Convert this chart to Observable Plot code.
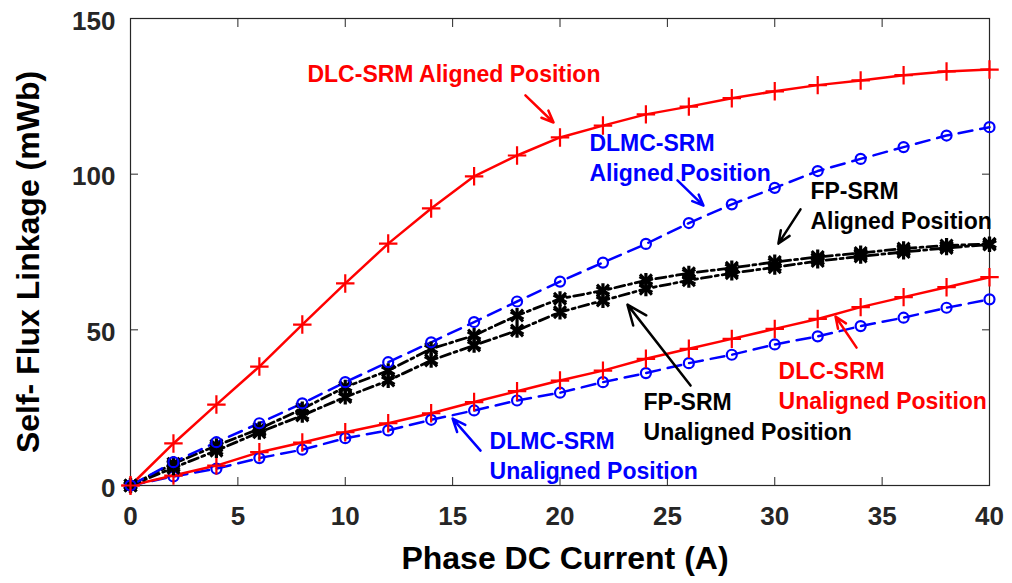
<!DOCTYPE html>
<html>
<head>
<meta charset="utf-8">
<script src="https://cdn.jsdelivr.net/npm/d3@7"></script>
<script src="https://cdn.jsdelivr.net/npm/@observablehq/plot@0.6"></script>
<style>
  html, body { margin: 0; padding: 0; background: #fff; }
  #chart { width: 1012px; height: 583px; }
</style>
</head>
<body>
<div id="chart"></div>
<script>
// ---- data ----
const current = [0, 2, 4, 6, 8, 10, 12, 14, 16, 18, 20, 22, 24, 26, 28, 30, 32, 34, 36, 38, 40];
const dlcAligned    = [0, 13.5, 26.0, 38.2, 51.7, 64.9, 77.7, 89.0, 99.3, 106.0, 111.8, 115.6, 119.2, 121.7, 124.4, 126.6, 128.6, 130.1, 131.8, 133.0, 133.6];
const dlmcAligned   = [0, 7.5, 13.9, 20.0, 26.4, 33.2, 39.6, 46.0, 52.5, 59.1, 65.5, 71.6, 77.6, 84.3, 90.3, 95.6, 101.0, 104.9, 108.7, 112.4, 115.1];
const fpAligned     = [0, 7.0, 12.8, 18.2, 24.6, 31.6, 36.9, 43.9, 48.2, 54.6, 60.0, 62.6, 65.9, 68.2, 69.9, 71.8, 73.4, 74.7, 76.1, 77.1, 77.6];
const fpUnaligned   = [0, 5.7, 11.2, 17.1, 22.5, 28.4, 33.7, 40.2, 45.0, 49.8, 55.7, 59.4, 63.2, 65.9, 68.2, 70.1, 72.1, 73.6, 75.0, 76.3, 77.4];
const dlcUnaligned  = [0, 3.2, 6.4, 10.7, 13.8, 17.1, 20.0, 23.2, 26.8, 30.3, 33.7, 36.9, 40.7, 43.9, 47.1, 50.3, 53.5, 57.3, 60.5, 63.7, 66.9];
const dlmcUnaligned = [0, 2.9, 5.4, 8.8, 11.5, 15.2, 17.7, 21.1, 24.1, 27.3, 29.8, 33.2, 36.1, 39.3, 42.0, 45.3, 47.9, 51.2, 53.9, 57.1, 59.8];

const xTicks = [0, 5, 10, 15, 20, 25, 30, 35, 40];
const yTicks = [0, 50, 100, 150];
const xLabel = "Phase DC Current (A)";
const yLabel = "Self- Flux Linkage (mWb)";

// annotation texts and anchor points (data units)
const noteText = ["DLC-SRM Aligned Position", "DLMC-SRM\nAligned Position", "FP-SRM\nAligned Position",
                  "FP-SRM\nUnaligned Position", "DLC-SRM\nUnaligned Position", "DLMC-SRM\nUnaligned Position"];
const noteGroup = ["DLC", "DLMC", "FP", "FP", "DLC", "DLMC"];
const noteX = [8.24, 21.37, 31.66, 23.89, 30.18, 16.72];
const noteY = [132.7, 105.7, 90.3, 22.5, 32.4, 10.0];
const arrowX1 = [18.39, 25.47, 31.20, 26.08, 33.81, 16.30];
const arrowY1 = [125.3, 98.0, 88.7, 32.1, 44.3, 11.2];
const arrowX2 = [19.70, 26.68, 30.17, 23.14, 32.83, 15.00];
const arrowY2 = [116.6, 89.9, 77.7, 58.1, 54.3, 21.5];

// ---- build tables ----
const toRows = (vals) => current.map((c, i) => ({x: c, y: vals[i]}));
const rDlcA = toRows(dlcAligned), rDlmcA = toRows(dlmcAligned), rFpA = toRows(fpAligned);
const rFpU = toRows(fpUnaligned), rDlcU = toRows(dlcUnaligned), rDlmcU = toRows(dlmcUnaligned);
const notes = noteText.map((t, i) => ({t, g: noteGroup[i], x: noteX[i], y: noteY[i]}));
const arrows = arrowX1.map((_, i) => ({g: noteGroup[i], x1: arrowX1[i], y1: arrowY1[i], x2: arrowX2[i], y2: arrowY2[i]}));

const colorOf = {DLC: "#ff0000", DLMC: "#0000ff", FP: "#000000"};
const AX = "#262626";
const FONT = "Liberation Sans, Arial, Helvetica, sans-serif";

const chart = Plot.plot({
  width: 1012,
  height: 583,
  marginLeft: 130,
  marginRight: 23,
  marginTop: 18,
  marginBottom: 98,
  style: {fontFamily: FONT, background: "#fff", color: AX, overflow: "visible"},
  x: {domain: [0, 40]},
  y: {domain: [0, 150]},
  marks: [
    // inward ticks on all four sides
    Plot.axisX({anchor: "bottom", ticks: xTicks, tickSize: 8, dy: -8, tickFormat: () => "", label: null, stroke: AX}),
    Plot.axisX({anchor: "top", ticks: xTicks, tickSize: 8, dy: 8, tickFormat: () => "", label: null, stroke: AX}),
    Plot.axisY({anchor: "left", ticks: yTicks, tickSize: 8, dx: 8, tickFormat: () => "", label: null, stroke: AX}),
    Plot.axisY({anchor: "right", ticks: yTicks, tickSize: 8, dx: -8, tickFormat: () => "", label: null, stroke: AX}),
    // tick labels
    Plot.axisX({anchor: "bottom", ticks: xTicks, tickSize: 0, tickPadding: 21, label: null,
      fontSize: 26, fontWeight: "bold", fill: AX}),
    Plot.axisY({anchor: "left", ticks: yTicks, tickSize: 0, tickPadding: 15, dy: 3, label: null,
      fontSize: 26, fontWeight: "bold", fill: AX}),
    Plot.frame({stroke: AX, strokeWidth: 1.2}),
    // axis titles
    Plot.text([xLabel], {frameAnchor: "bottom", dx: 5, dy: 73, text: d => d, fontSize: 32, fontWeight: "bold",
      fill: "#000", textAnchor: "middle", lineAnchor: "middle"}),
    Plot.text([yLabel], {frameAnchor: "left", dx: -102, dy: 10, rotate: -90, text: d => d, fontSize: 32,
      fontWeight: "bold", fill: "#000", textAnchor: "middle", lineAnchor: "middle"}),

    // series lines
    Plot.line(rDlmcU, {x: "x", y: "y", stroke: colorOf.DLMC, strokeWidth: 2.5, strokeDasharray: "14,8"}),
    Plot.line(rDlcU, {x: "x", y: "y", stroke: colorOf.DLC, strokeWidth: 2.5}),
    Plot.line(rFpU, {x: "x", y: "y", stroke: colorOf.FP, strokeWidth: 2.8, strokeDasharray: "10,4,3,4"}),
    Plot.line(rFpA, {x: "x", y: "y", stroke: colorOf.FP, strokeWidth: 2.8, strokeDasharray: "10,4,3,4"}),
    Plot.line(rDlmcA, {x: "x", y: "y", stroke: colorOf.DLMC, strokeWidth: 2.5, strokeDasharray: "14,8"}),
    Plot.line(rDlcA, {x: "x", y: "y", stroke: colorOf.DLC, strokeWidth: 2.5}),
    // markers
    Plot.dot(rDlmcU, {x: "x", y: "y", symbol: "circle", r: 5, stroke: colorOf.DLMC, fill: "none", strokeWidth: 2.2}),
    Plot.dot(rDlcU, {x: "x", y: "y", symbol: "plus", r: 6, stroke: colorOf.DLC, strokeWidth: 2.2}),
    Plot.dot(rFpU, {x: "x", y: "y", symbol: "asterisk", r: 7, stroke: colorOf.FP, strokeWidth: 3.2}),
    Plot.dot(rFpU, {x: "x", y: "y", symbol: "times", r: 5.5, stroke: colorOf.FP, strokeWidth: 3}),
    Plot.dot(rFpA, {x: "x", y: "y", symbol: "asterisk", r: 7, stroke: colorOf.FP, strokeWidth: 3.2}),
    Plot.dot(rFpA, {x: "x", y: "y", symbol: "times", r: 5.5, stroke: colorOf.FP, strokeWidth: 3}),
    Plot.dot(rDlmcA, {x: "x", y: "y", symbol: "circle", r: 5, stroke: colorOf.DLMC, fill: "none", strokeWidth: 2.2}),
    Plot.dot(rDlcA, {x: "x", y: "y", symbol: "plus", r: 6, stroke: colorOf.DLC, strokeWidth: 2.2}),

    // annotations
    Plot.arrow(arrows, {x1: "x1", y1: "y1", x2: "x2", y2: "y2", stroke: d => colorOf[d.g], strokeWidth: 2.5,
      headLength: 13, headAngle: 45}),
    Plot.text(notes, {x: "x", y: "y", text: "t", fill: d => colorOf[d.g], fontSize: 23, fontWeight: "bold",
      textAnchor: "start", lineAnchor: "middle", lineHeight: 1.3})
  ]
});

document.getElementById("chart").appendChild(chart);
</script>
</body>
</html>
